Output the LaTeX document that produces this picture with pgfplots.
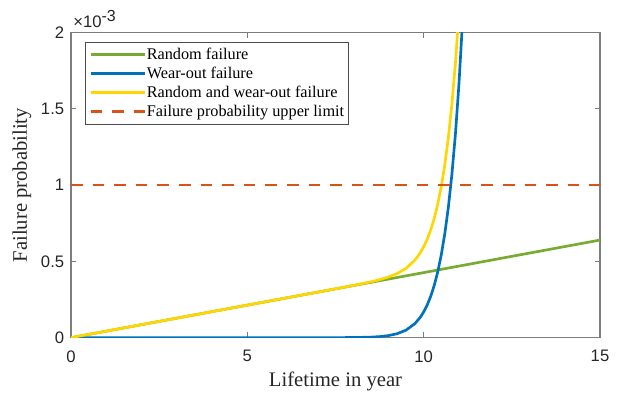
\documentclass[border=0pt]{standalone}
\usepackage{fontspec}
\setmainfont{Liberation Serif}
\newfontfamily\arialfont{Liberation Sans}
\usepackage{pgfplots}
\pgfplotsset{compat=1.18}

\definecolor{mgreen}{RGB}{119,172,48}
\definecolor{mblue}{RGB}{0,114,189}
\definecolor{myellow}{RGB}{255,214,0}
\definecolor{morange}{RGB}{217,83,25}
\definecolor{axgray}{RGB}{125,125,125}

\pgfplotstableread{
t     F
0     0
15    0.64
}\randomfail

\pgfplotstableread{
t     F
0     0
6     0
7     0.00003
7.5   0.00017
8     0.0008
8.5   0.0034
8.75  0.0068
9     0.0135
9.25  0.0260
9.5   0.0492
9.75  0.0918
9.9   0.1324
10    0.1686
10.1  0.2141
10.2  0.2712
10.3  0.3427
10.4  0.4322
10.5  0.5439
10.6  0.6826
10.7  0.8551
10.8  1.0693
10.9  1.3338
11.0  1.6609
11.1  2.0638
}\wearout

\pgfplotstableread{
t     F
0     0
7     0.2987
7.5   0.3202
8     0.3421
8.5   0.3661
8.75  0.3801
9     0.3975
9.25  0.4207
9.5   0.4545
9.75  0.5078
9.9   0.5548
10    0.5953
10.1  0.6450
10.2  0.7064
10.3  0.7822
10.4  0.8759
10.5  0.9919
10.6  1.1349
10.7  1.3116
10.8  1.5301
10.9  1.7989
11.0  2.1302
}\combined

\pgfplotstableread{
t     F
0     1
15    1
}\upperlimit

\begin{document}
\begin{tikzpicture}
\useasboundingbox (-53.25pt,-45.2pt) rectangle (414.75pt,253.25pt);
\begin{axis}[
  at={(0,0)}, anchor=south west,
  scale only axis,
  width=396.75pt, height=228.75pt,
  xmin=0, xmax=15, ymin=0, ymax=2,
  xtick={0,5,10,15},
  ytick={0,0.5,1,1.5,2},
  axis line style={axgray, line width=0.8pt},
  tick style={axgray, line width=0.8pt},
  major tick length=4pt,
  tick align=inside,
  xtick pos=both, ytick pos=both,
  /pgf/number format/assume math mode=true,
  ticklabel style={font=\arialfont\fontsize{12.5}{14}\selectfont, text=black!85},
  xticklabel style={yshift=-6pt},
  yticklabel style={xshift=-1.6pt},
  xlabel={Lifetime in year},
  ylabel={Failure probability},
  label style={font=\fontsize{15.5}{18}\selectfont, text=black!85},
  xlabel style={at={(axis description cs:0.5,-0.1607)}, anchor=base},
  ylabel style={at={(axis description cs:-0.0926,0.5)}, anchor=center},
  legend style={
    at={(axis description cs:0.0265,0.971)}, anchor=north west,
    draw=black!70, line width=0.6pt,
    font=\fontsize{12.2}{14}\selectfont,
    nodes={inner sep=0.5pt, text height=9.5pt, text depth=2.5pt},
    row sep=1.25pt,
    inner xsep=3pt, inner ysep=3pt,
    /tikz/every even column/.append style={column sep=3.5pt},
  },
  legend cell align=left,
  legend image code/.code={\draw[#1] (0pt,0pt) -- (40.5pt,0pt);},
  every axis plot/.append style={line width=2pt},
  clip=true,
]
\addplot[mgreen] table[x=t,y=F] {\randomfail};
\addlegendentry{Random failure}
\addplot[mblue] table[x=t,y=F] {\wearout};
\addlegendentry{Wear-out failure}
\addplot[myellow] table[x=t,y=F] {\combined};
\addlegendentry{Random and wear-out failure}
\addplot[morange, dash pattern=on 8.7pt off 7.5pt] table[x=t,y=F] {\upperlimit};
\addlegendentry{Failure probability upper limit}
\end{axis}
\node[anchor=base west, inner sep=0pt, font=\arialfont\fontsize{12.5}{14}\selectfont, text=black!85]
  at (1.5pt,228.75pt+3.5pt) {×10\raisebox{5pt}{\fontsize{12}{14}\selectfont -3}};
\end{tikzpicture}
\end{document}
